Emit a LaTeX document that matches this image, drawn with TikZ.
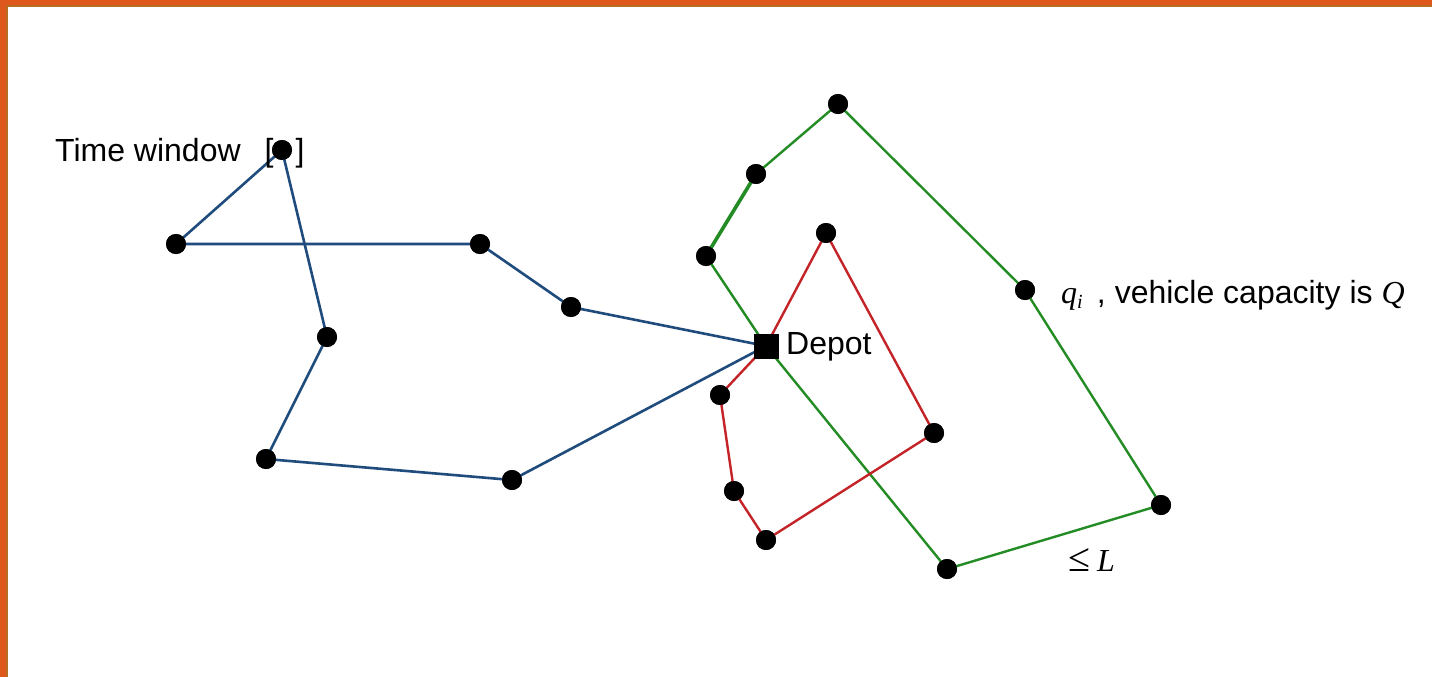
\documentclass[tikz,border=0pt]{standalone}
\usepackage{fontspec}
\setmainfont{Liberation Sans}
\newfontfamily\symfont{Liberation Serif}
\definecolor{frameorange}{RGB}{222,88,28}
\definecolor{frameedge}{RGB}{184,110,32}
\definecolor{routeblue}{RGB}{31,76,125}
\definecolor{routegreen}{RGB}{36,140,36}
\definecolor{routered}{RGB}{196,36,40}
\newcommand{\varsym}[1]{{\symfont\itshape #1}}
\tikzset{
  cust/.style={circle,fill=black,inner sep=0pt,minimum size=20pt},
  depotbox/.style={rectangle,fill=black,inner sep=0pt,minimum size=25pt},
  lbl/.style={font=\fontsize{32}{38}\selectfont,inner sep=0pt},
  blueroute/.style={draw=routeblue,line width=2.6pt,line join=round},
  greenroute/.style={draw=routegreen,line width=2.4pt,line join=round},
  redroute/.style={draw=routered,line width=2.4pt,line join=round},
}
\begin{document}
\begin{tikzpicture}[x=1pt,y=-1pt]
\useasboundingbox (0,0) rectangle (1432,677);
% slide frame
\fill[white] (0,0) rectangle (1432,677);
\fill[frameorange] (0,0) rectangle (1432,5);
\fill[frameedge] (0,5) rectangle (1432,7);
\fill[frameorange] (0,0) rectangle (6,677);
\fill[frameedge] (6,7) rectangle (8,677);

% depot and customers
\node[depotbox] (D) at (766,346) {};
\node[cust] (b1) at (571,307) {};
\node[cust] (b2) at (480,244) {};
\node[cust] (b3) at (176,244) {};
\node[cust] (b4) at (282,150) {};
\node[cust] (b5) at (327,337) {};
\node[cust] (b6) at (266,459) {};
\node[cust] (b7) at (512,480) {};

\node[cust] (g1) at (706,256) {};
\node[cust] (g2) at (756,174) {};
\node[cust] (g3) at (838,104) {};
\node[cust] (g4) at (1025,290) {};
\node[cust] (g5) at (1161,505) {};
\node[cust] (g6) at (947,569) {};

\node[cust] (r1) at (826,233) {};
\node[cust] (r2) at (934,433) {};
\node[cust] (r3) at (766,540) {};
\node[cust] (r4) at (734,491) {};
\node[cust] (r5) at (720,395) {};

% routes
\path[blueroute] (D.center) -- (b1.center) -- (b2.center) -- (b3.center) -- (b4.center) -- (b5.center) -- (b6.center) -- (b7.center) -- (D.center);
\path[greenroute] (D.center) -- (g1.center) -- (g2.center) -- (g3.center) -- (g4.center) -- (g5.center) -- (g6.center) -- (D.center);
\path[greenroute,line width=3.6pt] (g1.center) -- (g2.center);
\path[redroute] (D.center) -- (r1.center) -- (r2.center) -- (r3.center) -- (r4.center) -- (r5.center) -- (D.center);

% markers drawn over the route lines
\foreach \n in {b1,b2,b3,b4,b5,b6,b7,g1,g2,g3,g4,g5,g6,r1,r2,r3,r4,r5}
  \fill[black] (\n) circle (10pt);
\fill[black] ([shift={(-12.5pt,-12.5pt)}]D.center) rectangle ([shift={(12.5pt,12.5pt)}]D.center);

% labels
\node[lbl,anchor=base west] (tw) at (55,161) {Time window};
\node[lbl,anchor=base] (lb) at (269,161) {[};
\node[lbl,anchor=base] (rb) at (300,161) {]};
\node[lbl,anchor=west] (dl) at (786,347) {Depot};
\node[lbl,anchor=base west] (cap) at (1061,303) {\varsym{q}\raisebox{-5pt}{\fontsize{20}{24}\selectfont\varsym{i}}\, , vehicle capacity is \varsym{Q}};
\node[lbl,anchor=base west] (len) at (1068,571) {{\fontsize{40}{44}\selectfont\symfont\char"2264}\hspace{7pt}\varsym{L}};
\end{tikzpicture}
\end{document}
